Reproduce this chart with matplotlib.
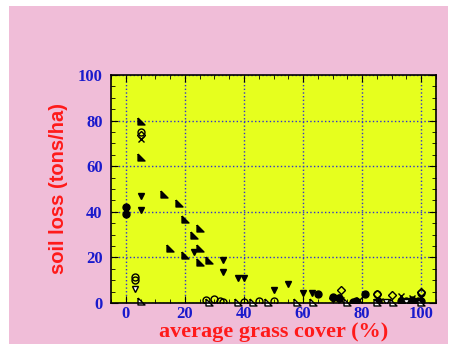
import numpy as np
import matplotlib.pyplot as plt
from matplotlib.patches import Rectangle
from matplotlib.ticker import MultipleLocator

# grass cover (%) vs soil loss (tons/ha), one list pair per marker kind
tri_x = [5, 5, 13, 18, 20, 25, 23, 15, 25, 20, 25, 28]
tri_y = [80, 64, 48, 44, 37, 33, 30, 24, 24, 21, 18, 19]

down_x = [5, 5, 23, 33, 33, 38, 40, 50, 55, 60, 63]
down_y = [47, 41, 22.5, 19, 13.5, 11, 11, 5.5, 8.5, 4.5, 4.5]

circ_x = [0, 0, 65, 70, 72, 77, 78, 81, 85.5, 93, 95, 97, 99, 100]
circ_y = [42, 39, 4, 2.5, 2, 0.5, 1, 3.8, 1, 1, 1, 1.5, 1, 1]

ocirc_x = [3, 3, 5, 27, 30, 32, 33, 40, 45, 50, 72, 85, 100]
ocirc_y = [11.5, 10, 75, 1.3, 1.8, 0.7, 0.5, 0.5, 0.7, 0.7, 2, 4, 4.5]

odown_x = [3, 88, 95]
odown_y = [6, 0.6, 0.6]

otri_x = [5, 28, 38, 43, 48, 58, 63.5, 75, 85, 90.5, 100]
otri_y = [1, 0.4, 0.4, 0.4, 0.4, 0.4, 0.4, 0.4, 0.4, 0.4, 0.4]

odiam_x = [5, 70, 73, 85, 90, 100]
odiam_y = [73.5, 2.2, 5.5, 4, 3.5, 5]

cross_x = [5, 73, 79, 86, 93, 97, 100]
cross_y = [72, 1.5, 1.5, 1, 3, 2, 2.5]

xticks = [0, 20, 40, 60, 80, 100]
yticks = [0, 20, 40, 60, 80, 100]

pink = '#f0bdd8'
yellow = '#e6ff1e'
blue = '#1a1acc'
red = '#ff1a1a'

fig = plt.figure(figsize=(4.49, 3.44), dpi=100)
bg = Rectangle((9/449, 0), 439/449, 1-6/344, transform=fig.transFigure,
               facecolor=pink, edgecolor='none', zorder=-10)
fig.add_artist(bg)
ax = fig.add_axes([111/449, 1-303/344, 325/449, 228/344])
ax.set_zorder(5)
ax.set_facecolor(yellow)

rtri = [(-1, 1), (-1, -1), (1, -1), (-1, 1)]
ms = 5
ax.plot(tri_x, tri_y, ls='none', marker=rtri, ms=ms, color='k')
ax.plot(down_x, down_y, ls='none', marker='v', ms=ms, color='k')
ax.plot(circ_x, circ_y, ls='none', marker='o', ms=ms, color='k')
ax.plot(ocirc_x, ocirc_y, ls='none', marker='o', ms=ms, mfc='none', mec='k', mew=1)
ax.plot(odown_x, odown_y, ls='none', marker='v', ms=ms, mfc='white', mec='k', mew=1)
ax.plot(otri_x, otri_y, ls='none', marker=rtri, ms=ms, mfc='white', mec='k', mew=1, clip_on=False)
ax.plot(odiam_x, odiam_y, ls='none', marker='D', ms=4, mfc='none', mec='k', mew=1)
ax.plot(cross_x, cross_y, ls='none', marker='x', ms=ms, color='k', mew=1)

ax.set_xlim(-5, 105)
ax.set_ylim(0, 100)
ax.set_xticks(xticks)
ax.set_yticks(yticks)
ax.xaxis.set_minor_locator(MultipleLocator(5))
ax.yaxis.set_minor_locator(MultipleLocator(5))
ax.tick_params(which='both', direction='in', top=True, right=True, color='k')
ax.tick_params(which='major', length=5)
ax.tick_params(axis='y', which='major', pad=6)
ax.tick_params(axis='x', which='major', pad=2)
ax.tick_params(which='minor', length=3)
for lab in ax.get_xticklabels() + ax.get_yticklabels():
    lab.set_family('Liberation Serif')
    lab.set_weight('bold')
    lab.set_color(blue)
    lab.set_fontsize(12)

ax.grid(True, which='major', ls=':', color='#3030d0', lw=1)
ax.set_axisbelow(True)
for s in ax.spines.values():
    s.set_linewidth(1.2)

ax.set_xlabel('average grass cover (%)', family='Liberation Serif', weight='bold',
              color=red, fontsize=16)
ax.set_ylabel('soil loss (tons/ha)', family='Liberation Sans', weight='bold',
              color=red, fontsize=14.5)
ax.xaxis.set_label_coords(0.5, -0.127)
ax.yaxis.set_label_coords(-0.163, 0.5)
ax.xaxis.label.set_va('center')
ax.yaxis.label.set_va('center')

fig.savefig('out.png', dpi=100, facecolor='white')
